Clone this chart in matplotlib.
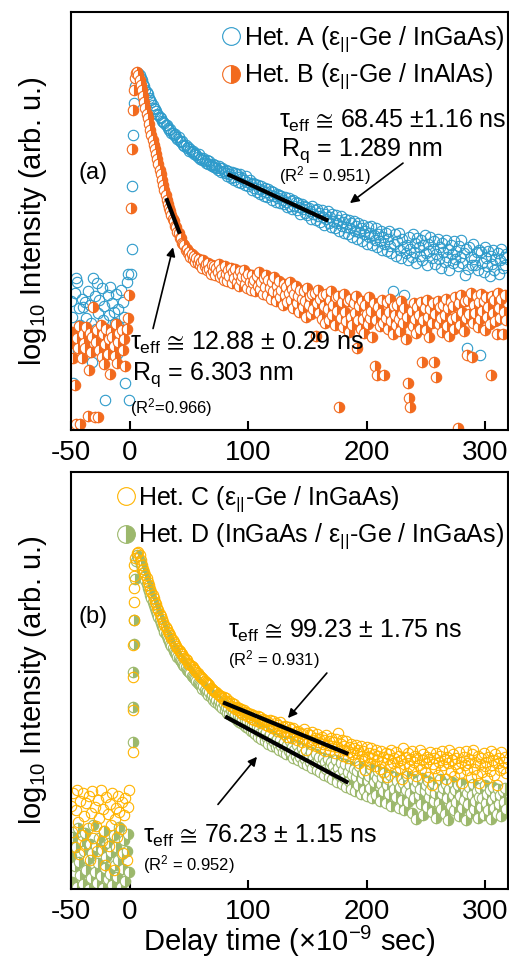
import numpy as np
import matplotlib
matplotlib.use('Agg')
import matplotlib.pyplot as plt

plt.rcParams['font.family'] = ['Liberation Sans', 'DejaVu Sans']
plt.rcParams['mathtext.fontset'] = 'custom'
plt.rcParams['mathtext.rm'] = 'Liberation Sans'
plt.rcParams['mathtext.it'] = 'Liberation Sans'
plt.rcParams['mathtext.bf'] = 'Liberation Sans:bold'
plt.rcParams['mathtext.fallback'] = 'stixsans'
plt.rcParams['axes.unicode_minus'] = False

# time base (ns) for the background before the laser pulse
t_pre = np.arange(-50, 0)

# ---- Het. A : log10 PL intensity ----
a_pre = [-1.92, -2.05, -2.61, -1.85, -1.73, -1.76, -2.33, -1.98, -2.12, -1.90,
         -1.97, -2.20, -1.93, -2.06, -1.84, -2.27, -1.95, -2.10, -2.43, -1.73,
         -1.88, -2.15, -1.77, -2.02, -1.91, -2.30, -1.81, -2.08, -1.96, -2.75,
         -2.18, -1.87, -2.04, -1.80, -2.25, -1.94, -2.01, -2.10, -1.86, -2.36,
         -1.99, -2.14, -1.83, -2.16, -1.93, -2.05, -2.61, -1.76, -1.69, -2.75]
a_rise_t = [0.5, 1.5, 2.0, 2.5, 3.0, 4.0, 5.0, 6.0]
a_rise = [-1.69, -1.48, -0.96, -0.53, -0.26, -0.12, -0.05, -0.02]
a_t0 = 7
a_decay = [
    -0.01, -0.03, -0.05, -0.07, -0.10, -0.12, -0.15, -0.17, -0.19, -0.22,
    -0.24, -0.25, -0.28, -0.30, -0.31, -0.33, -0.35, -0.36, -0.38, -0.39,
    -0.41, -0.42, -0.43, -0.45, -0.45, -0.47, -0.49, -0.48, -0.51, -0.51,
    -0.53, -0.52, -0.55, -0.56, -0.55, -0.58, -0.59, -0.58, -0.61, -0.62,
    -0.61, -0.64, -0.63, -0.66, -0.65, -0.67, -0.66, -0.69, -0.68, -0.70,
    -0.71, -0.69, -0.73, -0.72, -0.74, -0.72, -0.75, -0.76, -0.74, -0.77,
    -0.75, -0.78, -0.79, -0.77, -0.80, -0.78, -0.81, -0.82, -0.79, -0.81,
    -0.84, -0.81, -0.83, -0.85, -0.82, -0.87, -0.83, -0.86, -0.89, -0.84,
    -0.88, -0.91, -0.85, -0.86, -0.92, -0.88, -0.86, -0.93, -0.89, -0.91,
    -0.95, -0.87, -0.92, -0.96, -0.91, -0.94, -0.99, -0.93, -0.97, -0.94,
    -1.01, -0.95, -0.98, -1.02, -0.96, -1.00, -1.04, -0.97, -1.01, -1.05,
    -0.98, -1.03, -1.00, -1.07, -1.01, -1.04, -1.09, -1.02, -1.06, -1.03,
    -1.10, -1.04, -1.07, -1.11, -1.05, -1.09, -1.13, -1.06, -1.12, -1.08,
    -1.15, -1.07, -1.12, -1.09, -1.16, -1.10, -1.13, -1.19, -1.11, -1.15,
    -1.12, -1.18, -1.13, -1.20, -1.14, -1.17, -1.23, -1.12, -1.19, -1.16,
    -1.24, -1.15, -1.21, -1.18, -1.26, -1.16, -1.22, -1.28, -1.19, -1.23,
    -1.17, -1.27, -1.22, -1.30, -1.19, -1.25, -1.31, -1.20, -1.27, -1.24,
    -1.33, -1.21, -1.29, -1.26, -1.35, -1.23, -1.30, -1.36, -1.24, -1.31,
    -1.27, -1.38, -1.25, -1.33, -1.29, -1.40, -1.27, -1.34, -1.31, -1.42,
    -1.28, -1.36, -1.33, -1.44, -1.30, -1.38, -1.35, -1.29, -1.45, -1.37,
    -1.41, -1.31, -1.47, -1.36, -1.42, -1.33, -1.49, -1.38, -1.44, -1.35,
    -1.50, -1.40, -1.33, -1.46, -1.52, -1.84, -1.44, -1.36, -1.54, -1.42,
    -1.35, -1.49, -1.56, -1.40, -1.47, -1.87, -1.52, -1.45, -1.58, -1.38,
    -1.48, -1.55, -1.36, -1.51, -1.43, -1.60, -1.39, -1.47, -1.54, -1.41,
    -1.58, -1.45, -1.37, -1.52, -1.62, -1.44, -1.50, -1.38, -1.56, -1.48,
    -1.42, -1.61, -1.53, -1.40, -1.57, -1.47, -1.64, -1.43, -1.51, -1.59,
    -1.41, -1.55, -1.48, -1.66, -1.45, -1.53, -1.60, -1.42, -1.57, -1.50,
    -1.63, -1.46, -1.55, -1.41, -1.60, -1.52, -1.70, -1.48, -2.31, -1.65,
    -1.47, -1.55, -1.62, -1.44, -1.57, -1.62, -1.51, -1.66, -1.49, -2.37,
    -1.51, -1.60, -1.68, -1.47, -1.56, -1.63, -1.50, -1.71, -1.54, -1.61,
    -1.49, -1.66, -1.57, -2.08, -1.52, -1.69, -1.58, -1.48, -1.64, -1.55,
    -1.62, -1.53]

# ---- Het. B ----
b_pre = [-2.27, -2.18, -2.40, -2.62, -2.95, -2.23, -2.31, -2.13, -2.95, -2.40,
         -2.20, -2.27, -2.31, -2.14, -2.88, -2.50, -2.19, -2.35, -2.22, -1.97,
         -2.89, -2.26, -2.16, -2.89, -2.33, -2.12, -2.39, -2.20, -2.45, -2.28,
         -2.15, -2.36, -2.24, -2.53, -2.18, -2.22, -2.30, -2.38, -2.11, -2.44,
         -2.26, -2.19, -3.04, -2.16, -2.33, -2.24, -2.46, -2.15, -2.06, -1.87]
b_rise_t = [1.0, 2.0, 2.5, 3.0, 4.0, 5.0]
b_rise = [-1.14, -0.65, -0.32, -0.15, -0.05, -0.01]
b_t0 = 6
b_decay = [
    0.00, -0.03, -0.07, -0.11, -0.15, -0.20, -0.25, -0.30, -0.35, -0.39,
    -0.44, -0.49, -0.53, -0.57, -0.61, -0.65, -0.69, -0.73, -0.77, -0.82,
    -0.86, -0.91, -0.95, -0.99, -1.03, -1.07, -1.11, -1.14, -1.17, -1.20,
    -1.23, -1.25, -1.29, -1.30, -1.34, -1.35, -1.39, -1.39, -1.43, -1.44,
    -1.45, -1.49, -1.48, -1.52, -1.51, -1.55, -1.53, -1.57, -1.54, -1.59,
    -1.56, -1.60, -1.57, -1.62, -1.59, -1.64, -1.58, -1.63, -1.61, -1.66,
    -1.60, -1.65, -1.69, -1.62, -1.67, -1.63, -1.70, -1.64, -1.68, -1.61,
    -1.72, -1.65, -1.70, -1.74, -1.63, -1.69, -1.75, -1.66, -1.71, -1.64,
    -1.77, -1.68, -1.73, -1.65, -1.76, -1.70, -1.79, -1.67, -1.74, -1.71,
    -1.66, -1.78, -1.72, -1.81, -1.69, -1.76, -1.83, -1.70, -1.77, -1.74,
    -1.84, -1.71, -1.79, -1.68, -1.82, -1.76, -1.86, -1.73, -1.80, -1.70,
    -1.87, -1.74, -1.81, -1.90, -1.76, -1.84, -1.72, -1.92, -1.79, -1.85,
    -1.75, -1.89, -1.83, -1.95, -1.78, -1.87, -1.80, -1.93, -1.85, -1.76,
    -1.91, -1.82, -1.98, -1.86, -1.79, -1.94, -1.88, -2.01, -1.83, -1.90,
    -1.97, -1.84, -1.92, -2.05, -1.81, -1.95, -1.88, -2.03, -1.86, -1.99,
    -1.85, -2.21, -1.94, -1.83, -2.02, -1.90, -2.07, -1.87, -1.96, -2.10,
    -1.86, -1.99, -2.08, -1.91, -1.84, -2.04, -1.95, -2.12, -1.89, -2.00,
    -1.88, -2.81, -2.06, -1.93, -2.14, -1.86, -2.01, -2.09, -1.92, -2.18,
    -1.90, -2.05, -2.12, -1.94, -2.02, -1.88, -2.31, -2.08, -1.96, -2.15,
    -1.92, -2.07, -2.19, -1.95, -2.03, -2.11, -1.89, -2.06, -2.00, -2.22,
    -1.94, -2.46, -2.08, -2.54, -1.97, -2.13, -2.02, -1.91, -2.10, -2.54,
    -2.06, -1.93, -2.15, -2.01, -1.90, -2.09, -2.20, -1.96, -2.04, -2.12,
    -1.95, -2.07, -2.17, -1.92, -2.03, -2.10, -1.98, -2.24, -2.05, -2.61,
    -2.73, -2.81, -2.00, -2.13, -1.94, -2.07, -2.19, -1.97, -2.04, -2.15,
    -1.93, -2.43, -2.08, -1.98, -2.16, -1.91, -2.05, -2.22, -1.99, -2.10,
    -1.94, -2.43, -2.03, -2.56, -1.92, -2.11, -1.97, -2.06, -2.18, -1.95,
    -2.04, -1.90, -2.13, -1.98, -2.21, -1.93, -2.07, -1.96, -2.15, -1.89,
    -2.05, -2.98, -1.94, -2.12, -1.87, -2.01, -2.17, -1.92, -2.06, -2.37,
    -1.91, -2.03, -1.85, -2.39, -2.10, -1.95, -2.02, -1.88, -2.14, -1.93,
    -2.07, -1.86, -2.00, -1.92, -2.16, -1.89, -2.05, -1.97, -2.11, -2.54,
    -1.88, -2.02, -1.91, -2.09, -2.20, -1.85, -1.98, -2.06, -1.90, -2.20,
    -2.01, -1.87, -2.08]

# ---- Het. C ----
c_pre = [-2.10, -2.32, -1.99, -2.45, -2.14, -1.97, -2.24, -2.51, -2.06, -2.35,
         -1.99, -2.19, -2.42, -2.08, -2.29, -2.02, -2.56, -2.16, -1.98, -2.37,
         -2.11, -2.27, -2.48, -2.05, -2.20, -1.97, -2.40, -2.13, -2.31, -2.60,
         -2.03, -2.17, -2.44, -2.09, -2.26, -1.99, -2.64, -2.21, -2.12, -2.36,
         -2.02, -2.15, -2.30, -2.07, -2.50, -2.18, -2.04, -2.56, -2.11, -1.97]
c_rise_t = [2.5, 2.6, 2.7, 2.8, 2.9, 3.0, 3.2, 3.4, 3.7, 4.5, 5.5]
c_rise = [-1.65, -1.30, -1.02, -0.75, -0.54, -0.39, -0.27, -0.17, -0.08, -0.02, 0.02]
c_t0 = 7
c_decay = [
    0.03, 0.00, -0.04, -0.08, -0.11, -0.14, -0.16, -0.19, -0.22, -0.25,
    -0.28, -0.31, -0.33, -0.36, -0.39, -0.41, -0.44, -0.46, -0.49, -0.51,
    -0.53, -0.56, -0.58, -0.60, -0.62, -0.64, -0.65, -0.67, -0.69, -0.71,
    -0.73, -0.74, -0.76, -0.78, -0.79, -0.80, -0.82, -0.83, -0.84, -0.86,
    -0.87, -0.88, -0.90, -0.91, -0.92, -0.93, -0.94, -0.95, -0.96, -0.98,
    -0.99, -1.00, -1.01, -1.02, -1.03, -1.04, -1.05, -1.06, -1.07, -1.08,
    -1.09, -1.11, -1.12, -1.13, -1.14, -1.15, -1.15, -1.16, -1.17, -1.18,
    -1.18, -1.20, -1.19, -1.22, -1.20, -1.23, -1.24, -1.22, -1.26, -1.24,
    -1.27, -1.25, -1.29, -1.27, -1.30, -1.28, -1.31, -1.29, -1.33, -1.30,
    -1.33, -1.31, -1.35, -1.32, -1.36, -1.33, -1.37, -1.34, -1.38, -1.35,
    -1.39, -1.35, -1.38, -1.36, -1.41, -1.37, -1.40, -1.38, -1.42, -1.39,
    -1.43, -1.38, -1.42, -1.45, -1.39, -1.44, -1.41, -1.47, -1.42, -1.45,
    -1.40, -1.48, -1.44, -1.50, -1.43, -1.47, -1.52, -1.44, -1.49, -1.46,
    -1.53, -1.45, -1.51, -1.48, -1.55, -1.47, -1.52, -1.49, -1.57, -1.50,
    -1.46, -1.54, -1.63, -1.49, -1.56, -1.51, -1.58, -1.48, -1.55, -1.53,
    -1.60, -1.50, -1.57, -1.54, -1.62, -1.52, -1.58, -1.55, -1.64, -1.51,
    -1.59, -1.56, -1.63, -1.53, -1.60, -1.57, -1.66, -1.54, -1.61, -1.49,
    -1.64, -1.58, -1.55, -1.68, -1.60, -1.63, -1.56, -1.70, -1.61, -1.65,
    -1.58, -1.67, -1.62, -1.72, -1.59, -1.66, -1.63, -1.74, -1.60, -1.68,
    -1.64, -1.71, -1.80, -1.61, -1.69, -1.66, -1.75, -1.62, -1.70, -1.67,
    -1.77, -1.63, -1.72, -1.68, -1.79, -1.64, -1.73, -1.69, -1.82, -1.66,
    -1.86, -1.71, -1.67, -1.76, -1.63, -1.74, -1.70, -1.81, -1.65, -1.73,
    -1.68, -1.78, -1.72, -1.88, -1.62, -1.75, -1.69, -1.83, -1.66, -1.77,
    -1.71, -1.64, -1.80, -1.73, -1.68, -1.85, -1.70, -1.76, -1.63, -1.79,
    -1.72, -1.67, -1.82, -1.74, -1.69, -1.86, -1.71, -1.65, -1.93, -1.75,
    -1.70, -1.78, -1.66, -1.84, -1.73, -1.68, -1.80, -1.64, -1.76, -1.71,
    -1.88, -1.69, -1.74, -1.63, -1.81, -1.72, -1.67, -1.85, -1.75, -1.70,
    -1.78, -1.65, -1.83, -1.73, -1.91, -1.69, -1.76, -1.64, -1.80, -1.74,
    -1.71, -1.86, -1.67, -1.63, -1.79, -1.73, -1.84, -1.68, -1.91, -1.75,
    -1.70, -1.82, -1.66, -1.77, -1.73, -1.87, -1.69, -1.81, -1.64, -1.76,
    -1.72, -1.84, -1.67, -1.93, -1.74, -1.70, -1.80, -1.65, -1.78, -1.73,
    -1.69, -1.83]

# ---- Het. D ----
d_pre = [-2.52, -2.74, -2.36, -2.61, -2.45, -2.78, -2.29, -2.57, -2.68, -2.40,
         -2.76, -2.48, -2.33, -2.64, -2.55, -2.80, -2.42, -2.71, -2.50, -2.26,
         -2.66, -2.44, -2.75, -2.58, -2.37, -2.69, -2.47, -2.79, -2.31, -2.62,
         -2.53, -2.72, -2.41, -2.67, -2.49, -2.77, -2.35, -2.60, -2.45, -2.70,
         -2.56, -2.28, -2.78, -2.51, -2.63, -2.39, -2.73, -2.48, -2.34, -2.66]
d_rise_t = [2.4, 2.6, 2.8, 3.0, 3.2, 4.0, 5.0]
d_rise = [-1.57, -1.27, -0.98, -0.74, -0.54, -0.20, -0.05]
d_t0 = 6
d_decay = [
    0.00, -0.02, -0.05, -0.08, -0.12, -0.15, -0.18, -0.21, -0.24, -0.27,
    -0.30, -0.33, -0.36, -0.39, -0.42, -0.44, -0.47, -0.49, -0.52, -0.54,
    -0.57, -0.59, -0.61, -0.64, -0.66, -0.68, -0.70, -0.72, -0.74, -0.76,
    -0.78, -0.80, -0.82, -0.83, -0.85, -0.86, -0.88, -0.89, -0.90, -0.92,
    -0.93, -0.94, -0.96, -0.97, -0.98, -0.99, -1.01, -1.02, -1.03, -1.04,
    -1.05, -1.07, -1.08, -1.09, -1.10, -1.12, -1.10, -1.13, -1.15, -1.14,
    -1.17, -1.15, -1.19, -1.17, -1.21, -1.19, -1.23, -1.21, -1.25, -1.22,
    -1.26, -1.24, -1.28, -1.25, -1.30, -1.27, -1.32, -1.28, -1.33, -1.30,
    -1.35, -1.31, -1.36, -1.33, -1.38, -1.34, -1.40, -1.36, -1.41, -1.37,
    -1.42, -1.38, -1.44, -1.39, -1.45, -1.41, -1.47, -1.42, -1.48, -1.43,
    -1.50, -1.44, -1.52, -1.46, -1.49, -1.54, -1.47, -1.51, -1.56, -1.48,
    -1.53, -1.58, -1.50, -1.55, -1.60, -1.52, -1.57, -1.61, -1.54, -1.59,
    -1.63, -1.55, -1.60, -1.65, -1.57, -1.62, -1.67, -1.59, -1.64, -1.56,
    -1.66, -1.61, -1.70, -1.63, -1.68, -1.59, -1.72, -1.65, -1.69, -1.62,
    -1.74, -1.66, -1.71, -1.63, -1.76, -1.68, -1.73, -1.65, -1.78, -1.70,
    -1.74, -1.67, -1.80, -1.72, -1.69, -1.82, -1.75, -1.70, -1.84, -1.73,
    -1.79, -1.71, -1.86, -1.76, -1.73, -1.88, -1.77, -1.82, -1.72, -1.90,
    -1.78, -1.84, -1.74, -1.92, -1.80, -1.87, -1.75, -1.94, -1.82, -1.89,
    -1.77, -1.96, -1.84, -1.79, -1.98, -1.86, -1.81, -1.93, -1.77, -2.00,
    -1.88, -1.83, -1.97, -1.80, -2.02, -1.89, -1.85, -1.95, -1.79, -2.04,
    -1.90, -1.84, -2.01, -1.87, -1.81, -2.06, -1.92, -1.86, -1.98, -1.83,
    -2.08, -1.93, -1.88, -2.00, -1.84, -2.10, -1.91, -1.96, -1.86, -2.03,
    -1.89, -2.12, -1.94, -1.87, -2.05, -1.91, -2.14, -1.97, -1.85, -2.07,
    -1.92, -1.99, -2.16, -1.88, -2.04, -1.94, -2.21, -1.90, -2.01, -1.96,
    -2.09, -1.87, -2.18, -1.98, -1.93, -2.11, -1.89, -2.03, -1.97, -2.15,
    -1.91, -2.06, -1.99, -2.20, -1.94, -2.08, -1.88, -2.13, -2.00, -1.95,
    -2.17, -1.92, -2.04, -2.22, -1.96, -2.10, -1.90, -2.01, -2.14, -1.97,
    -2.07, -1.93, -2.19, -2.02, -1.91, -2.12, -2.05, -1.96, -2.22, -1.99,
    -2.09, -1.94, -2.16, -2.01, -1.92, -2.13, -2.06, -1.98, -2.20, -2.03,
    -1.95, -2.11, -2.04, -2.18, -1.93, -2.08, -2.00, -2.14, -1.97, -2.21,
    -2.05, -1.94, -2.12, -2.02, -2.17, -1.96, -2.09, -2.01, -2.19, -1.98,
    -2.07, -1.95, -2.13]

# single-exponential fit segments (log10 scale)
fit_a_t, fit_a = [84, 166], [-0.865, -1.24]
fit_b_t, fit_b = [31.2, 41.4], [-1.075, -1.34]
fit_c_t, fit_c = [80.2, 183], [-1.24, -1.66]
fit_d_t, fit_d = [81.9, 183], [-1.36, -1.90]

x_ticks = [-50, 0, 100, 200, 300]

BLUE = '#2E9BCB'
ORANGE = '#F26A1E'
YELLOW = '#FFB400'
GREEN = '#9CB86C'


def join(pre, rise_t, rise, t0, decay):
    t = np.concatenate([t_pre, rise_t, np.arange(t0, t0 + len(decay))])
    y = np.concatenate([pre, rise, decay])
    return t, y


def style_axes(ax, ylim):
    ax.set_xlim(-50, 320)
    ax.set_ylim(*ylim)
    ax.set_xticks(x_ticks)
    ax.set_yticks([])
    ax.tick_params(axis='x', direction='in', length=6.5, width=1.5,
                   labelsize=20, pad=7)
    for sp in ax.spines.values():
        sp.set_linewidth(1.5)
    ax.set_ylabel(r'log$_{10}$ Intensity (arb. u.)', fontsize=21, labelpad=16)


def arrow(ax, tail, head):
    ax.annotate('', xy=head, xytext=tail,
                arrowprops=dict(arrowstyle='-|>', color='black', lw=1.2,
                                mutation_scale=13, shrinkA=0, shrinkB=0))


def add_legend(ax, handles, labels):
    ax.legend(handles, labels, loc='upper right', bbox_to_anchor=(0.99, 0.97),
              frameon=False, fontsize=18, markerscale=1.7, handlelength=0.7,
              handletextpad=0.15, labelspacing=0.3, borderpad=0,
              borderaxespad=0, numpoints=1)


def tau(value):
    return r'$\tau_{\mathrm{eff}}$ $≅$ ' + value


BIG, SMALL = 18, 12

fig = plt.figure(figsize=(5.1, 9.61), dpi=100)
ax1 = fig.add_axes([0.1392, 0.5525, 0.8578, 0.435])
ax2 = fig.add_axes([0.1392, 0.0749, 0.8578, 0.4339])

mk = dict(ls='none', marker='o', ms=7.5, mew=0.8)

# panel (a)
ta, ya = join(a_pre, a_rise_t, a_rise, a_t0, a_decay)
tb, yb = join(b_pre, b_rise_t, b_rise, b_t0, b_decay)
la, = ax1.plot(ta, ya, mfc='none', mec=BLUE, **mk)
lb, = ax1.plot(tb, yb, mfc=ORANGE, mfcalt='white', mec=ORANGE,
               fillstyle='right', **mk)
ax1.plot(fit_a_t, fit_a, color='black', lw=3, zorder=5)
ax1.plot(fit_b_t, fit_b, color='black', lw=3, zorder=5)
style_axes(ax1, (-3.0, 0.5))
add_legend(ax1, [la, lb],
           [r'Het. A ($\varepsilon_{||}$-Ge / InGaAs)',
            r'Het. B ($\varepsilon_{||}$-Ge / InAlAs)'])

ax1.text(-31.4, -0.85, '(a)', fontsize=17, ha='center', va='center')
ax1.text(126, -0.47, tau('68.45 ±1.16 ns'), fontsize=BIG)
ax1.text(127.6, -0.70, r'R$_\mathrm{q}$ = 1.289 nm', fontsize=BIG)
ax1.text(126, -0.92, r'(R$^2$ = 0.951)', fontsize=SMALL)
arrow(ax1, (230.8, -0.765), (185.9, -1.10))
ax1.text(0, -2.33, tau('12.88 ± 0.29 ns'), fontsize=BIG)
ax1.text(1.5, -2.58, r'R$_\mathrm{q}$ = 6.303 nm', fontsize=BIG)
ax1.text(0, -2.86, r'(R$^2$=0.966)', fontsize=SMALL)
arrow(ax1, (19.4, -2.15), (36.3, -1.47))

# panel (b)
td, yd = join(d_pre, d_rise_t, d_rise, d_t0, d_decay)
tc, yc = join(c_pre, c_rise_t, c_rise, c_t0, c_decay)
ld, = ax2.plot(td, yd, mfc=GREEN, mfcalt='white', mec=GREEN,
               fillstyle='right', **mk)
lc, = ax2.plot(tc, yc, mfc='none', mec=YELLOW, **mk)
ax2.plot(fit_c_t, fit_c, color='black', lw=3, zorder=5)
ax2.plot(fit_d_t, fit_d, color='black', lw=3, zorder=5)
style_axes(ax2, (-2.8, 0.7))
ax2.set_xlabel(r'Delay time ($\times$10$^{-9}$ sec)', fontsize=21, labelpad=-1)
add_legend(ax2, [lc, ld],
           [r'Het. C ($\varepsilon_{||}$-Ge / InGaAs)',
            r'Het. D (InGaAs / $\varepsilon_{||}$-Ge / InGaAs)'])

ax2.text(-31.4, -0.52, '(b)', fontsize=17, ha='center', va='center')
ax2.text(82.8, -0.693, tau('99.23 ± 1.75 ns'), fontsize=BIG)
ax2.text(82.8, -0.92, r'(R$^2$ = 0.931)', fontsize=SMALL)
arrow(ax2, (166.4, -0.987), (133.5, -1.365))
ax2.text(10.9, -2.41, tau('76.23 ± 1.15 ns'), fontsize=BIG)
ax2.text(10.9, -2.64, r'(R$^2$ = 0.952)', fontsize=SMALL)
arrow(ax2, (74.3, -2.09), (107.3, -1.69))

fig.savefig('out.png', dpi=100)
